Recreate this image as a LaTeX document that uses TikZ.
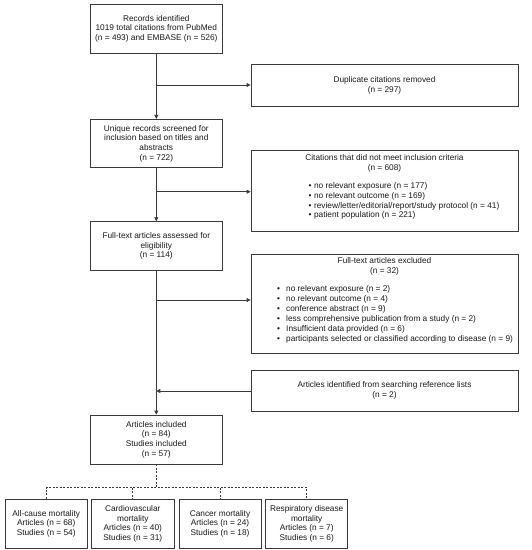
\documentclass[tikz,border=0pt]{standalone}
\usepackage{fontspec}
\setmainfont{Liberation Sans}
\usetikzlibrary{arrows.meta}
\definecolor{ln}{HTML}{3A3A3A}
\begin{document}
\begin{tikzpicture}[x=1pt,y=-1pt,
  every node/.style={font=\fontsize{8.3}{9.6}\selectfont, text=black!90},
  box/.style={draw=ln, line width=0.8pt, rectangle, inner sep=0pt, align=center},
  wbox/.style={box, minimum width=267pt},
  lbox/.style={box, minimum width=132.7pt, minimum height=49pt},
  sbox/.style={box, minimum width=82.3pt, minimum height=49pt},
  flow/.style={draw=ln, line width=0.8pt},
  arr/.style={flow, -{Triangle[length=4pt,width=4pt]}},
  dsh/.style={draw=ln, line width=0.8pt, dash pattern=on 2pt off 1.5pt},
  lst/.style={inner sep=0pt, align=left, font=\fontsize{8.3}{9.9}\selectfont}
]
\useasboundingbox (0,0) rectangle (532,550);

% main column
\node[lbox] (rec) at (156.3,28.8) {Records identified\\1019 total citations from PubMed\\(n = 493) and EMBASE (n = 526)};
\node[lbox, minimum height=48.4pt] (uniq) at (156.3,143.5) {Unique records screened for\\inclusion based on titles and\\abstracts\\(n = 722)};
\node[lbox] (full) at (156.3,246.2) {Full-text articles assessed for\\eligibility\\(n = 114)};
\node[lbox] (incl) at (156.3,439.5) {Articles included\\(n = 84)\\Studies included\\(n = 57)};

% side boxes
\node[wbox, minimum height=41.7pt] (dup) at (384.5,85.2) {Duplicate citations removed\\(n = 297)};
\node[wbox, minimum height=81pt] (cit) at (384.5,190.5) {};
\node[inner sep=0pt, align=center] (citT) at (384.5,163.2) {Citations that did not meet inclusion criteria\\(n = 608)};
\node[lst, anchor=west] (citL) at (308.4,200.9) {%
\textbullet\hspace{2.6pt}no relevant exposure (n = 177)\\
\textbullet\hspace{2.6pt}no relevant outcome (n = 169)\\
\textbullet\hspace{2.6pt}review/letter/editorial/report/study protocol (n = 41)\\
\textbullet\hspace{2.6pt}patient population (n = 221)};

\node[wbox, minimum height=99.3pt] (excl) at (384.5,303.7) {};
\node[inner sep=0pt, align=center] (exclT) at (384.5,266.6) {Full-text articles excluded\\(n = 32)};
\node[lst, anchor=west] (exclL) at (276.9,314.5) {%
\textbullet\hspace{6.2pt}no relevant exposure (n = 2)\\
\textbullet\hspace{6.2pt}no relevant outcome (n = 4)\\
\textbullet\hspace{6.2pt}conference abstract (n = 9)\\
\textbullet\hspace{6.2pt}less comprehensive publication from a study (n = 2)\\
\textbullet\hspace{6.2pt}Insufficient data provided (n = 6)\\
\textbullet\hspace{6.2pt}participants selected or classified according to disease (n = 9)};

\node[wbox, minimum height=41pt] (ref) at (384.5,390.5) {Articles identified from searching reference lists\\(n = 2)};

% bottom boxes
\node[sbox] (a) at (46.2,523.8) {All-cause mortality\\Articles (n = 68)\\Studies (n = 54)};
\node[sbox] (b) at (132.8,523.8) {Cardiovascular\\mortality\\Articles (n = 40)\\Studies (n = 31)};
\node[sbox, minimum width=82pt] (c) at (220,523.8) {Cancer mortality\\Articles (n = 24)\\Studies (n = 18)};
\node[sbox, minimum width=82pt] (d) at (306.7,523.8) {Respiratory disease\\mortality\\Articles (n = 7)\\Studies (n = 6)};

% connectors
\coordinate (j1) at (156.3,85);
\coordinate (j2) at (156.3,191.7);
\coordinate (j3) at (156.3,300);
\coordinate (j4) at (156.3,391);
\coordinate (jd) at (156.3,487.7);

\draw[arr] (rec.south) -- (uniq.north);
\draw[arr] (uniq.south) -- (full.north);
\draw[arr] (full.south) -- (incl.north);
\draw[arr] (j1) -- (j1 -| dup.west);
\draw[arr] (j2) -- (j2 -| cit.west);
\draw[arr] (j3) -- (j3 -| excl.west);
\draw[arr] (j4 -| ref.west) -- (j4);

\draw[dsh] (incl.south) -- (jd);
\draw[dsh] (a.north) |- (jd) -| (d.north);
\draw[dsh] (jd -| b.north) -- (b.north);
\draw[dsh] (jd -| c.north) -- (c.north);
\end{tikzpicture}
\end{document}
